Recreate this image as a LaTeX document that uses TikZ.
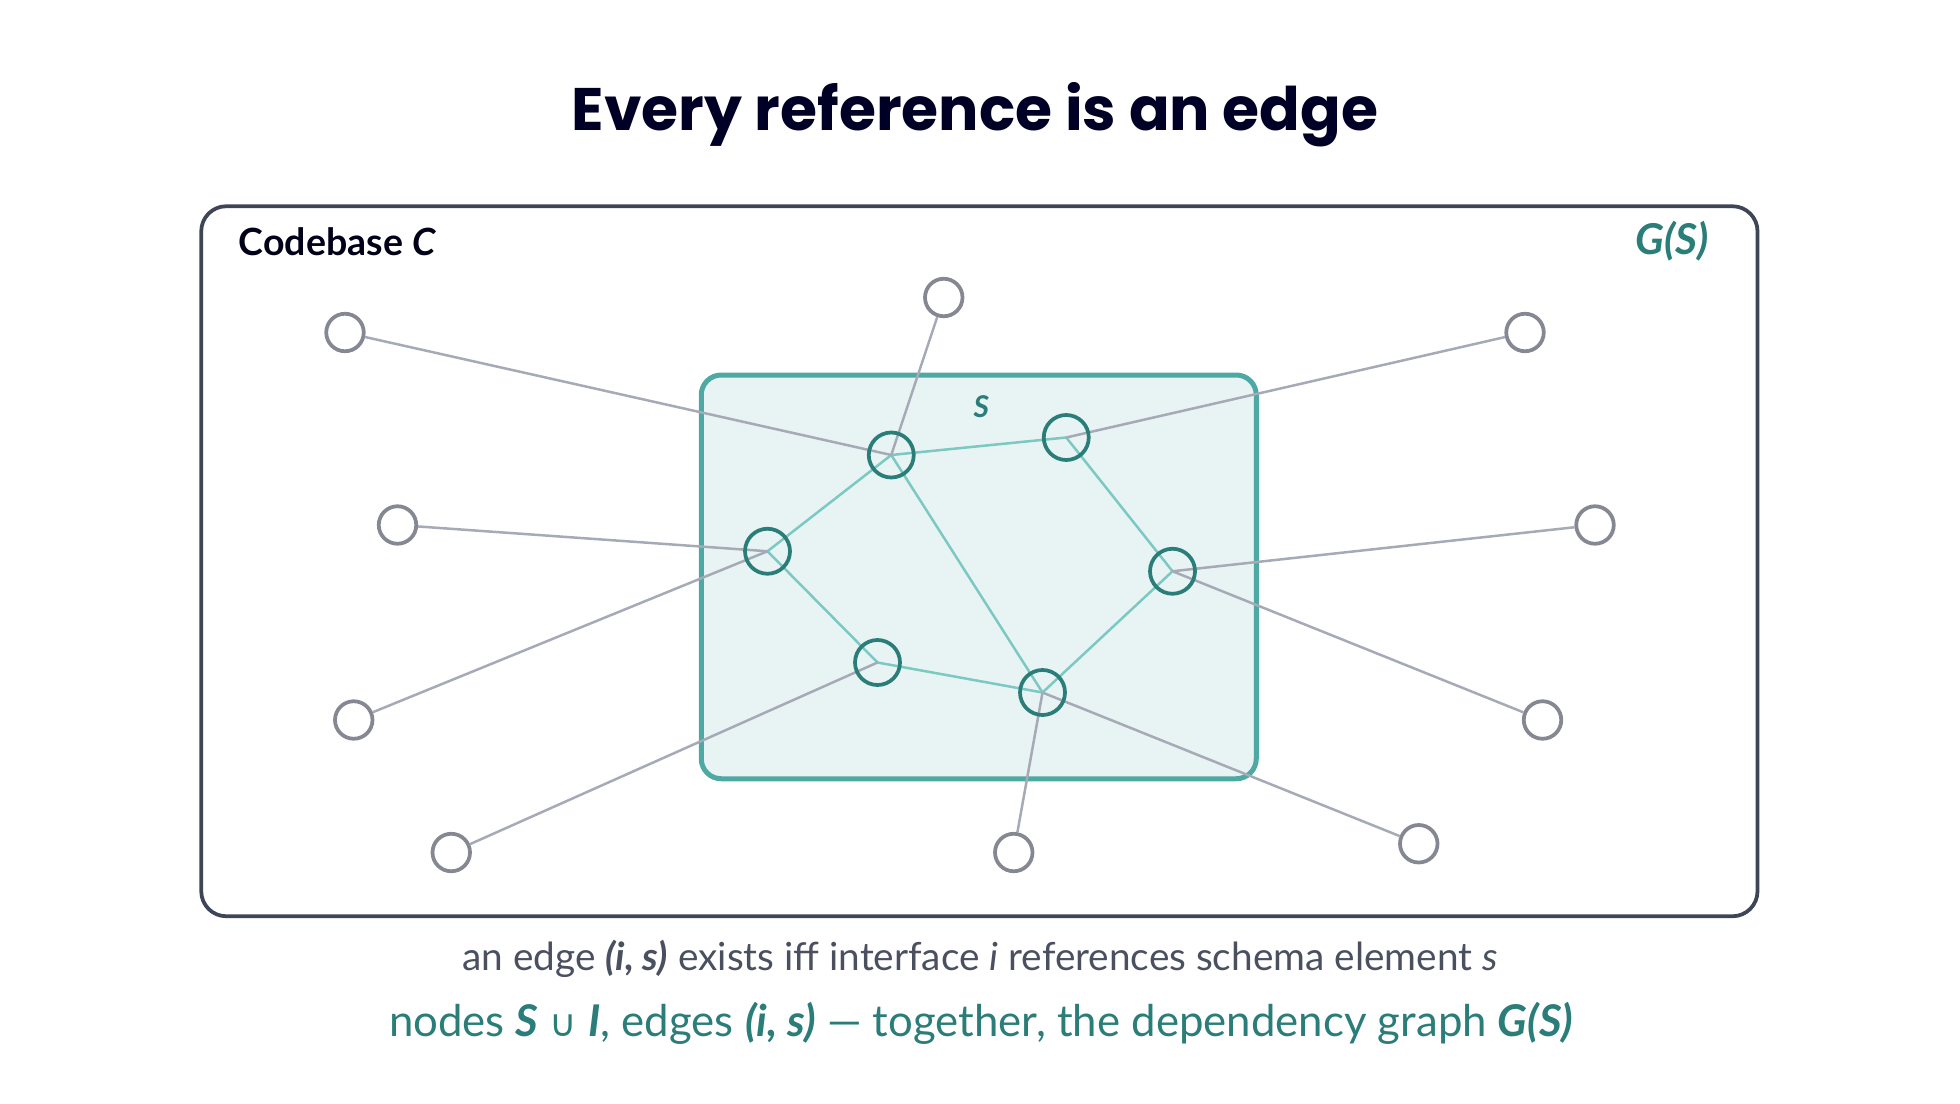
\documentclass[tikz,border=0pt]{standalone}
\usepackage{fontspec}
\setmainfont{Lato}
\newfontfamily\titlefont{Poppins}
\newfontfamily\symfont{DejaVu Sans}
\begin{document}
\begin{tikzpicture}[x=0.5pt,y=-0.5pt,
  outer/.style={circle,line width=1.5pt,minimum size=15pt,inner sep=0pt,fill=white},
  inner/.style={circle,line width=1.5pt,minimum size=18pt,inner sep=0pt},
  gedge/.style={draw=graylc,line width=1pt},
  tedge/.style={draw=teallc,line width=1pt}]
\definecolor{graylc}{HTML}{A6AAB6}
\definecolor{teallc}{HTML}{7CC8C2}
\definecolor{tealdk}{HTML}{2A7D78}
\definecolor{tealbox}{HTML}{4EA8A4}
\definecolor{frame}{HTML}{3D4556}
\definecolor{capgray}{HTML}{4A5060}
\useasboundingbox (0,0) rectangle (1568,883);
\node[font=\titlefont\bfseries\fontsize{24}{28}\selectfont,text=black!85!blue] (title) at (780,92) {Every reference is an edge};
\draw[frame,line width=1.5pt,rounded corners=10pt] (161,165) rectangle (1406,733);
\node[anchor=west,font=\bfseries\fontsize{15}{17}\selectfont,text=black!90!blue] (cb) at (184,193) {Codebase \textit{C}};
\node[anchor=east,font=\bfseries\itshape\fontsize{17}{20}\selectfont,text=tealdk] (gs) at (1374,193) {G(S)};
\draw[draw=tealbox,fill=teal!9,line width=2pt,rounded corners=8pt] (561,300) rectangle (1005,623);
\node[font=\bfseries\itshape\fontsize{12}{14}\selectfont,text=tealdk] (slab) at (785,325) {S};
\foreach \n/\x/\y in {o1/276/266,o2/755/238,o3/1220/266,o4/318/420,o5/1276/420,o6/283/576,o7/1234/576,o8/361/682,o9/811/682,o10/1135/675}
  \node[outer,draw=graylc!80!black] (\n) at (\x,\y) {};
\foreach \n/\x/\y in {a/713/364,b/853/350,c/614/441,d/938/457,e/702/530,f/834/554}
  \coordinate (\n) at (\x,\y);
\foreach \p/\q in {a/b,a/c,a/f,b/d,c/e,e/f,f/d}
  \draw[tedge] (\p) -- (\q);
\foreach \p/\q in {a/o1,a/o2,b/o3,c/o4,c/o6,d/o5,d/o7,e/o8,f/o9,f/o10}
  \draw[gedge] (\p) -- (\q);
\foreach \n in {a,b,c,d,e,f}
  \node[inner,draw=tealdk] (n\n) at (\n) {};
\node[font=\fontsize{15.5}{18}\selectfont,text=capgray] (cap1) at (784,767) {an edge \textbf{\textit{(i, s)}} exists iff interface \textit{i} references schema element \textit{s}};
\node[font=\fontsize{17.5}{20}\selectfont,text=tealdk] (cap2) at (785,819) {nodes \textbf{\textit{S}} {\symfont\fontsize{15}{18}\selectfont ∪} \textbf{\textit{I}}, edges \textbf{\textit{(i, s)}} — together, the dependency graph \textbf{\textit{G(S)}}};
\end{tikzpicture}
\end{document}
